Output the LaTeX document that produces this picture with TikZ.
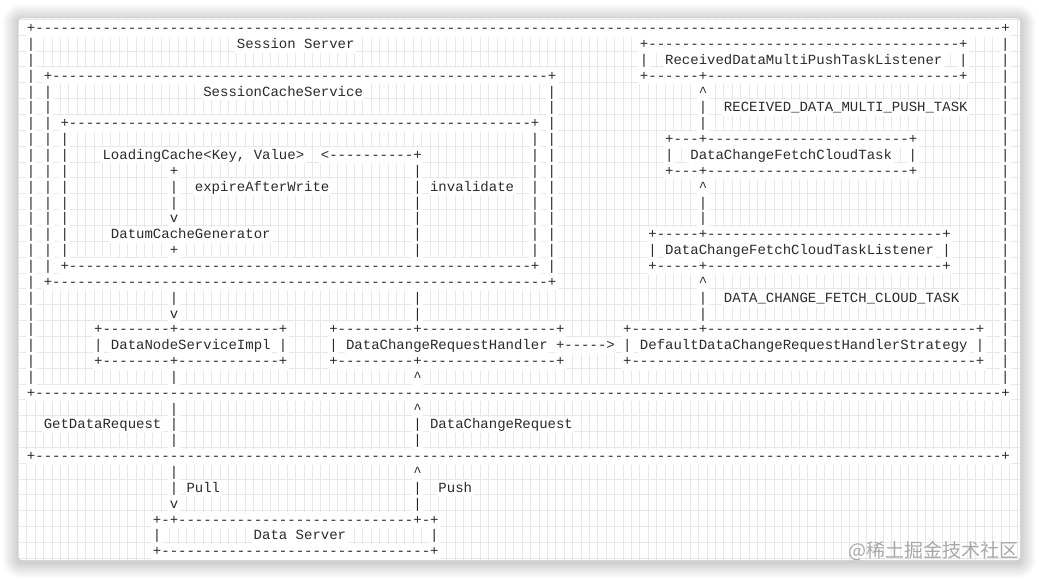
\documentclass[tikz,border=0pt]{standalone}
\usepackage{fontspec}
\setmonofont{Liberation Mono}
\newfontfamily\cjkfont{Noto Sans CJK SC}
\ExplSyntaxOn
\cs_new:Npn \myrep #1#2 { \prg_replicate:nn {#1} {#2} }
\ExplSyntaxOff
\newcommand\D[1]{\myrep{#1}{-}}
\newcommand\U{\textasciicircum}
\definecolor{ink}{HTML}{2B2B2B}
\definecolor{gridc}{HTML}{E8E8E8}
\definecolor{wmark}{HTML}{A8A8A8}
\tikzset{
  run/.style={font=\ttfamily\fontsize{14}{16}\selectfont, text=ink, fill=white,
    inner xsep=1.5pt, inner ysep=1pt, text height=11pt, text depth=3pt, anchor=base west},
  gridline/.style={draw=gridc, line width=0.7pt},
  card/.style={fill=white, rounded corners=3pt},
}
\newcommand\tx[3]{\node[run] (n-#1-#2) at ({26.8+8.397*#2-1.5},{-(32.7+15.85*#1)}) {#3};}
\begin{document}
\begin{tikzpicture}[x=1pt,y=1pt]
\useasboundingbox (0,0) rectangle (1039,-580);
\fill[white] (0,0) rectangle (1039,-580);
% shadow
\foreach \i in {1,...,16}{
  \fill[black, opacity=0.012, rounded corners={3pt+\i pt}] ({18.5-\i},{-18.5+\i-2}) rectangle ({1020+\i},{-560-\i-2});
}
\fill[card] (18.5,-18.5) rectangle (1020,-560);
\begin{scope}
  \clip[rounded corners=3pt] (18.5,-18.5) rectangle (1020,-560);
  \foreach \k in {0,...,118}{ \draw[gridline] ({26.8+8.397*\k},-18.5) -- ({26.8+8.397*\k},-560); }
  \foreach \k in {0,...,34}{ \draw[gridline] (18.5,{-(19.3+15.85*\k)}) -- (1020,{-(19.3+15.85*\k)}); }
\end{scope}
\node[anchor=base east, text=wmark, inner sep=0pt, font=\cjkfont\fontsize{19}{19}\selectfont] (wm) at (1019,-557) {@稀土掘金技术社区};
% row 0
\tx{0}{0}{+\D{115}+}
% row 1
\tx{1}{0}{|}\tx{1}{25}{Session Server}\tx{1}{73}{+\D{37}+}\tx{1}{116}{|}
% row 2
\tx{2}{0}{|}\tx{2}{73}{|}\tx{2}{76}{ReceivedDataMultiPushTaskListener}\tx{2}{111}{|}\tx{2}{116}{|}
% row 3
\tx{3}{0}{|}\tx{3}{2}{+\D{59}+}\tx{3}{73}{+\D{6}+\D{30}+}\tx{3}{116}{|}
% row 4
\tx{4}{0}{|}\tx{4}{2}{|}\tx{4}{21}{SessionCacheService}\tx{4}{62}{|}\tx{4}{80}{\U}\tx{4}{116}{|}
% row 5
\tx{5}{0}{|}\tx{5}{2}{|}\tx{5}{62}{|}\tx{5}{80}{|}\tx{5}{83}{RECEIVED\_DATA\_MULTI\_PUSH\_TASK}\tx{5}{116}{|}
% row 6
\tx{6}{0}{|}\tx{6}{2}{|}\tx{6}{4}{+\D{55}+}\tx{6}{62}{|}\tx{6}{80}{|}\tx{6}{116}{|}
% row 7
\tx{7}{0}{|}\tx{7}{2}{|}\tx{7}{4}{|}\tx{7}{60}{|}\tx{7}{62}{|}\tx{7}{76}{+\D{3}+\D{24}+}\tx{7}{116}{|}
% row 8
\tx{8}{0}{|}\tx{8}{2}{|}\tx{8}{4}{|}\tx{8}{9}{LoadingCache<Key,\ Value>}\tx{8}{35}{<\D{10}+}\tx{8}{60}{|}\tx{8}{62}{|}\tx{8}{76}{|}\tx{8}{79}{DataChangeFetchCloudTask}\tx{8}{105}{|}\tx{8}{116}{|}
% row 9
\tx{9}{0}{|}\tx{9}{2}{|}\tx{9}{4}{|}\tx{9}{17}{+}\tx{9}{46}{|}\tx{9}{60}{|}\tx{9}{62}{|}\tx{9}{76}{+\D{3}+\D{24}+}\tx{9}{116}{|}
% row 10
\tx{10}{0}{|}\tx{10}{2}{|}\tx{10}{4}{|}\tx{10}{17}{|}\tx{10}{20}{expireAfterWrite}\tx{10}{46}{|}\tx{10}{48}{invalidate}\tx{10}{60}{|}\tx{10}{62}{|}\tx{10}{80}{\U}\tx{10}{116}{|}
% row 11
\tx{11}{0}{|}\tx{11}{2}{|}\tx{11}{4}{|}\tx{11}{17}{|}\tx{11}{46}{|}\tx{11}{60}{|}\tx{11}{62}{|}\tx{11}{80}{|}\tx{11}{116}{|}
% row 12
\tx{12}{0}{|}\tx{12}{2}{|}\tx{12}{4}{|}\tx{12}{17}{v}\tx{12}{46}{|}\tx{12}{60}{|}\tx{12}{62}{|}\tx{12}{80}{|}\tx{12}{116}{|}
% row 13
\tx{13}{0}{|}\tx{13}{2}{|}\tx{13}{4}{|}\tx{13}{10}{DatumCacheGenerator}\tx{13}{46}{|}\tx{13}{60}{|}\tx{13}{62}{|}\tx{13}{74}{+\D{5}+\D{28}+}\tx{13}{116}{|}
% row 14
\tx{14}{0}{|}\tx{14}{2}{|}\tx{14}{4}{|}\tx{14}{17}{+}\tx{14}{46}{|}\tx{14}{60}{|}\tx{14}{62}{|}\tx{14}{74}{|}\tx{14}{76}{DataChangeFetchCloudTaskListener}\tx{14}{109}{|}\tx{14}{116}{|}
% row 15
\tx{15}{0}{|}\tx{15}{2}{|}\tx{15}{4}{+\D{55}+}\tx{15}{62}{|}\tx{15}{74}{+\D{5}+\D{28}+}\tx{15}{116}{|}
% row 16
\tx{16}{0}{|}\tx{16}{2}{+\D{59}+}\tx{16}{80}{\U}\tx{16}{116}{|}
% row 17
\tx{17}{0}{|}\tx{17}{17}{|}\tx{17}{46}{|}\tx{17}{80}{|}\tx{17}{83}{DATA\_CHANGE\_FETCH\_CLOUD\_TASK}\tx{17}{116}{|}
% row 18
\tx{18}{0}{|}\tx{18}{17}{v}\tx{18}{46}{|}\tx{18}{80}{|}\tx{18}{116}{|}
% row 19
\tx{19}{0}{|}\tx{19}{8}{+\D{8}+\D{12}+}\tx{19}{36}{+\D{9}+\D{16}+}\tx{19}{71}{+\D{8}+\D{32}+}\tx{19}{116}{|}
% row 20
\tx{20}{0}{|}\tx{20}{8}{|}\tx{20}{10}{DataNodeServiceImpl}\tx{20}{30}{|}\tx{20}{36}{|}\tx{20}{38}{DataChangeRequestHandler}\tx{20}{63}{+\D{5}>}\tx{20}{71}{|}\tx{20}{73}{DefaultDataChangeRequestHandlerStrategy}\tx{20}{113}{|}\tx{20}{116}{|}
% row 21
\tx{21}{0}{|}\tx{21}{8}{+\D{8}+\D{12}+}\tx{21}{36}{+\D{9}+\D{16}+}\tx{21}{71}{+\D{41}+}\tx{21}{116}{|}
% row 22
\tx{22}{0}{|}\tx{22}{17}{|}\tx{22}{46}{\U}\tx{22}{116}{|}
% row 23
\tx{23}{0}{+\D{115}+}
% row 24
\tx{24}{17}{|}\tx{24}{46}{\U}
% row 25
\tx{25}{2}{GetDataRequest}\tx{25}{17}{|}\tx{25}{46}{|}\tx{25}{48}{DataChangeRequest}
% row 26
\tx{26}{17}{|}\tx{26}{46}{|}
% row 27
\tx{27}{0}{+\D{115}+}
% row 28
\tx{28}{17}{|}\tx{28}{46}{\U}
% row 29
\tx{29}{17}{|}\tx{29}{19}{Pull}\tx{29}{46}{|}\tx{29}{49}{Push}
% row 30
\tx{30}{17}{v}\tx{30}{46}{|}
% row 31
\tx{31}{15}{+-+\D{28}+-+}
% row 32
\tx{32}{15}{|}\tx{32}{27}{Data\ Server}\tx{32}{48}{|}
% row 33
\tx{33}{15}{+\D{32}+}
\end{tikzpicture}
\end{document}
